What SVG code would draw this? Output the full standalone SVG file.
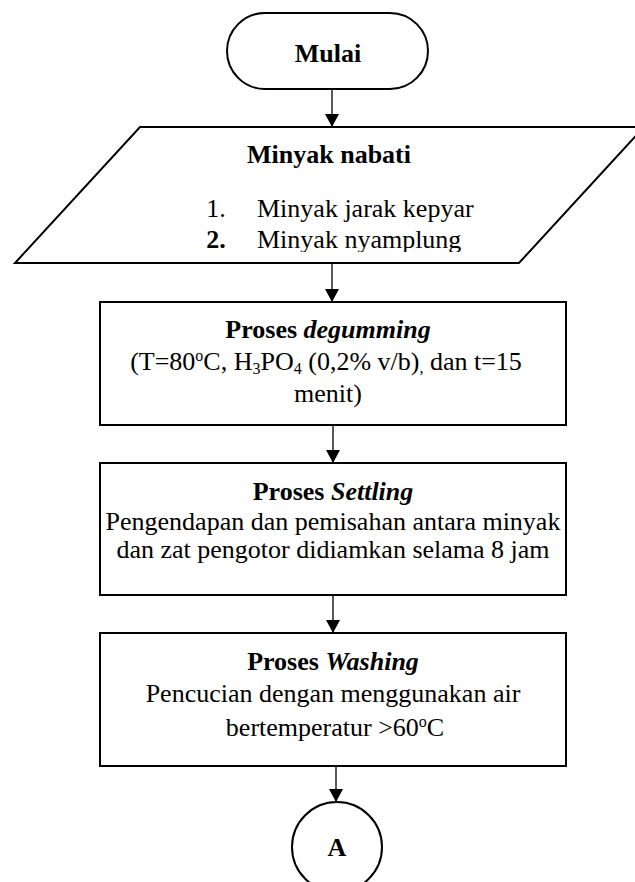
<svg xmlns="http://www.w3.org/2000/svg" width="635" height="882" viewBox="0 0 635 882">
<style>
.s{fill:#fff;stroke:#000;stroke-width:2}
.t{font-family:"Liberation Serif","Times New Roman",serif;font-size:26px;fill:#000;text-anchor:middle}
.b{font-weight:bold}
.c{stroke:#000;stroke-width:1.3;fill:none}
</style>
<defs>
<marker id="ah" viewBox="0 0 13 14" refX="13" refY="7" markerWidth="13" markerHeight="14" markerUnits="userSpaceOnUse" orient="auto">
<path d="M0,0 L13,7 L0,14 Z" fill="#000"/>
</marker>
<clipPath id="pc"><rect x="0" y="0" width="635" height="252"/></clipPath>
</defs>
<rect width="635" height="882" fill="#fff"/>
<g id="connectors">
<line class="c" x1="332" y1="89" x2="332" y2="127" marker-end="url(#ah)"/>
<line class="c" x1="332" y1="263" x2="332" y2="302" marker-end="url(#ah)"/>
<line class="c" x1="333" y1="425" x2="333" y2="463" marker-end="url(#ah)"/>
<line class="c" x1="333" y1="595" x2="333" y2="633" marker-end="url(#ah)"/>
<line class="c" x1="336" y1="766" x2="336" y2="802" marker-end="url(#ah)"/>
</g>
<g id="mulai">
<rect class="s" x="227" y="13" width="201" height="76" rx="38" ry="38"/>
<text class="t b" x="328" y="62" font-size="27">Mulai</text>
</g>
<g id="minyak-nabati">
<polygon class="s" points="140,127 644,127 519,263 15,263"/>
<text class="t b" x="329" y="163">Minyak nabati</text>
<g clip-path="url(#pc)">
<text class="t" x="216" y="217">1.</text>
<text class="t" x="257" y="217" style="text-anchor:start">Minyak jarak kepyar</text>
<text class="t b" x="216" y="248" font-size="20">2.</text>
<text class="t" x="257" y="248" style="text-anchor:start">Minyak nyamplung</text>
</g>
</g>
<g id="degumming">
<rect class="s" x="100" y="302" width="466" height="123"/>
<text class="t b" x="328" y="338">Proses <tspan font-style="italic">degumming</tspan></text>
<text class="t" x="326" y="370">(T=80<tspan font-size="16" dy="-9">o</tspan><tspan dy="9">C, H</tspan><tspan font-size="16" dy="4">3</tspan><tspan dy="-4">PO</tspan><tspan font-size="16" dy="4">4</tspan><tspan dy="-4"> (0,2%  v/b)</tspan><tspan font-size="16" dy="3">,</tspan><tspan dy="-3"> dan t=15</tspan></text>
<text class="t" x="328" y="402">menit)</text>
</g>
<g id="settling">
<rect class="s" x="100" y="463" width="466" height="132"/>
<text class="t b" x="333" y="500">Proses <tspan font-style="italic">Settling</tspan></text>
<text class="t" x="333" y="530">Pengendapan dan pemisahan antara minyak</text>
<text class="t" x="333" y="558">dan zat pengotor didiamkan selama 8 jam</text>
</g>
<g id="washing">
<rect class="s" x="100" y="633" width="466" height="133"/>
<text class="t b" x="333" y="670">Proses <tspan font-style="italic">Washing</tspan></text>
<text class="t" x="333" y="702">Pencucian dengan menggunakan air</text>
<text class="t" x="335" y="736">bertemperatur &gt;60<tspan font-size="16" dy="-9">o</tspan><tspan dy="9">C</tspan></text>
</g>
<g id="a">
<ellipse class="s" cx="337" cy="847" rx="45" ry="45"/>
<text class="t b" x="337" y="856" font-size="30">A</text>
</g>
</svg>
